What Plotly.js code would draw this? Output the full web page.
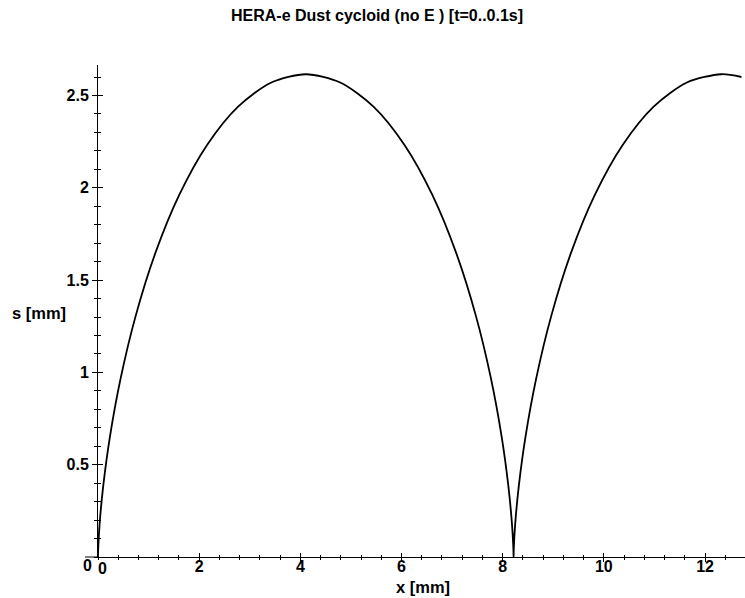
<!DOCTYPE html>
<html>
<head>
<meta charset="utf-8">
<script src="https://cdn.plot.ly/plotly-3.0.1.min.js"></script>
<style>html,body{margin:0;padding:0;background:#fff;}#chart{width:745px;height:598px;}</style>
</head>
<body>
<div id="chart"></div>
<script>
const xMm = [0, 0.0039, 0.0309, 0.1024, 0.2369, 0.4486, 0.7463, 1.1332, 1.6061, 2.1562, 2.7693, 3.4269, 4.1076,
  4.7883, 5.4460, 6.0591, 6.6092, 7.0821, 7.4690, 7.7667, 7.9784, 8.1129, 8.1844, 8.2114, 8.2153,
  8.2192, 8.2461, 8.3176, 8.4521, 8.6638, 8.9616, 9.3484, 9.8214, 10.3715, 10.9846, 11.6422, 12.3229, 12.72];
const sMm = [0, 0.0446, 0.1752, 0.3830, 0.6538, 0.9691, 1.3075, 1.6459, 1.9613, 2.2320, 2.4398, 2.5705, 2.6150,
  2.5705, 2.4398, 2.2320, 1.9613, 1.6459, 1.3075, 0.9691, 0.6538, 0.3830, 0.1752, 0.0446, 0,
  0.0446, 0.1752, 0.3830, 0.6538, 0.9691, 1.3075, 1.6459, 1.9613, 2.2320, 2.4398, 2.5705, 2.6150, 2.6000];
const xTickVals = [2, 4, 6, 8, 10, 12];
const xTickText = ['2', '4', '6', '8', '10', '12'];
const yTickVals = [0.5, 1, 1.5, 2, 2.5];
const yTickText = ['0.5', '1', '1.5', '2', '2.5'];
const titleText = 'HERA-e Dust cycloid (no E ) [t=0..0.1s]';
const xTitle = 'x [mm]';
const yTitle = 's [mm]';

const FONT = 'Liberation Sans, Arial, Helvetica, sans-serif';
const XR = [0, 12.79], YR = [0, 2.665];

const data = [
  {x: xMm, y: sMm, type: 'scatter', mode: 'lines', line: {color: '#000', width: 1.8, shape: 'spline', smoothing: 0.8},
   hoverinfo: 'skip', showlegend: false},
  {x: xMm, y: sMm, xaxis: 'x2', yaxis: 'y2', type: 'scatter', mode: 'none', hoverinfo: 'skip', showlegend: false}
];

function axisBase(range) {
  return {
    range: range, showgrid: false, zeroline: false, color: '#000',
    linecolor: '#000', linewidth: 1, fixedrange: true,
    tickfont: {family: FONT, size: 16, color: '#000', weight: 'bold'}
  };
}

const layout = {
  width: 745, height: 598,
  margin: {l: 98, r: 0, t: 65, b: 41, pad: 0},
  paper_bgcolor: '#fff', plot_bgcolor: '#fff',
  showlegend: false,
  xaxis: Object.assign(axisBase(XR), {
    showline: true, ticks: 'inside', ticklen: 4, tickwidth: 1, tickcolor: '#000',
    tickmode: 'array', tickvals: xTickVals, ticktext: xTickText, ticklabelstandoff: -5,
    minor: {ticks: 'inside', ticklen: 2, tickwidth: 1, tickcolor: '#000', tickmode: 'linear', tick0: 0, dtick: 0.4}
  }),
  yaxis: Object.assign(axisBase(YR), {
    showline: true, ticks: 'outside', ticklen: 5, tickwidth: 1, tickcolor: '#000',
    tickmode: 'array', tickvals: yTickVals, ticktext: yTickText,
    minor: {ticks: 'outside', ticklen: 3, tickwidth: 1, tickcolor: '#000', tickmode: 'linear', tick0: 0, dtick: 0.1}
  }),
  xaxis2: Object.assign(axisBase(XR), {
    overlaying: 'x', anchor: 'y2', side: 'bottom', showline: false, showticklabels: false,
    ticks: 'outside', ticklen: 4, tickwidth: 1, tickcolor: '#000',
    tickmode: 'array', tickvals: xTickVals,
    minor: {ticks: 'outside', ticklen: 2, tickwidth: 1, tickcolor: '#000', tickmode: 'linear', tick0: 0, dtick: 0.4}
  }),
  yaxis2: Object.assign(axisBase(YR), {
    overlaying: 'y', anchor: 'x2', side: 'left', showline: false, showticklabels: false,
    ticks: 'inside', ticklen: 5, tickwidth: 1, tickcolor: '#000',
    tickmode: 'array', tickvals: yTickVals,
    minor: {ticks: 'inside', ticklen: 3, tickwidth: 1, tickcolor: '#000', tickmode: 'linear', tick0: 0, dtick: 0.1}
  }),
  shapes: [
    {type: 'line', xref: 'paper', yref: 'paper', x0: -0.0201, x1: 0, y0: 0, y1: 0, line: {color: '#000', width: 1}}
  ],
  annotations: [
    {text: '<b>' + titleText + '</b>', xref: 'paper', yref: 'paper', x: (377 - 98) / 647, y: 1 + (65 - 15) / 492,
     xanchor: 'center', yanchor: 'middle', showarrow: false, font: {family: FONT, size: 16, color: '#000'}},
    {text: '<b>' + xTitle + '</b>', xref: 'paper', yref: 'paper', x: (423 - 98) / 647, y: -(587 - 557) / 492,
     xanchor: 'center', yanchor: 'middle', showarrow: false, font: {family: FONT, size: 16.5, color: '#000'}},
    {text: '<b>' + yTitle + '</b>', xref: 'paper', yref: 'paper', x: (39 - 98) / 647, y: (557 - 313) / 492,
     xanchor: 'center', yanchor: 'middle', showarrow: false, font: {family: FONT, size: 16.5, color: '#000'}},
    {text: '<b>0</b>', xref: 'paper', yref: 'paper', x: (102 - 98) / 647, y: -(568 - 557) / 492,
     xanchor: 'center', yanchor: 'middle', showarrow: false, font: {family: FONT, size: 16, color: '#000'}},
    {text: '<b>0</b>', xref: 'paper', yref: 'paper', x: (87 - 98) / 647, y: -(565 - 557) / 492,
     xanchor: 'center', yanchor: 'middle', showarrow: false, font: {family: FONT, size: 16, color: '#000'}}
  ]
};

Plotly.newPlot('chart', data, layout, {staticPlot: true, displayModeBar: false});
</script>
</body>
</html>
